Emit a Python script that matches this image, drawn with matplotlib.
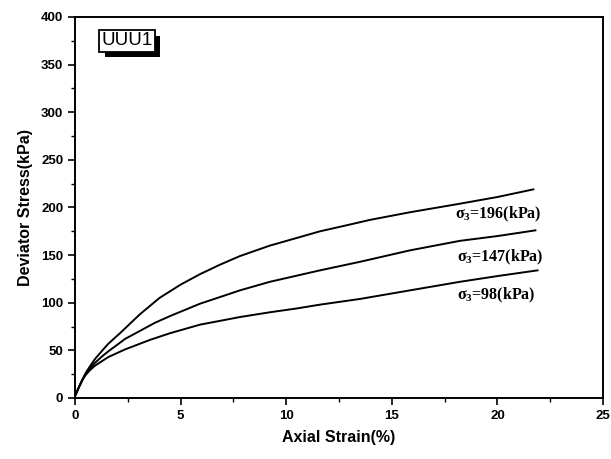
import matplotlib
matplotlib.use("Agg")
import matplotlib.pyplot as plt
from matplotlib.ticker import MultipleLocator
from matplotlib import patheffects as pe

# Axial strain (%) and deviator stress (kPa) for three confining pressures
strain_196 = [0.0, 0.1, 0.2, 0.35, 0.5, 0.7, 0.95, 1.3, 1.58, 2.13, 3.08, 4.0, 5.0, 5.92,
              6.87, 7.81, 9.23, 10.5, 11.6, 12.8, 13.97, 15.86, 18.23, 20.0, 21.7]
stress_196 = [2, 7, 12, 19, 26, 33, 41, 50, 57, 68, 88, 105, 119, 130,
              140, 149, 160, 168, 175, 181, 187, 195, 204, 211, 219]

strain_147 = [0.0, 0.1, 0.2, 0.35, 0.5, 0.7, 0.95, 1.3, 1.58, 2.13, 2.37, 3.79, 4.5, 5.92,
              6.87, 7.81, 9.23, 11.6, 13.5, 15.86, 18.23, 20.0, 21.8]
stress_147 = [2, 7, 12, 19, 25, 31, 37, 44, 49, 58, 62, 79, 86, 99,
              106, 113, 122, 134, 143, 155, 165, 170, 176]

strain_98 = [0.0, 0.1, 0.2, 0.35, 0.5, 0.7, 0.95, 1.3, 1.58, 2.37, 3.55, 4.5, 5.92, 6.87,
             7.81, 9.23, 10.5, 11.6, 13.5, 15.86, 18.23, 20.0, 21.9]
stress_98 = [2, 7, 12, 19, 24, 29, 34, 39, 43, 51, 61, 68, 77, 81,
             85, 90, 94, 98, 104, 113, 122, 128, 134]

curve_labels = ["σ$_3$=196(kPa)", "σ$_3$=147(kPa)", "σ$_3$=98(kPa)"]
label_pos = [(18.0, 193), (18.1, 148), (18.1, 108)]

x_ticks = [0, 5, 10, 15, 20, 25]
y_ticks = [0, 50, 100, 150, 200, 250, 300, 350, 400]

plt.rcParams["font.family"] = ["Liberation Sans", "DejaVu Sans"]
plt.rcParams["mathtext.fontset"] = "custom"
plt.rcParams["mathtext.rm"] = "Liberation Serif:bold"
plt.rcParams["mathtext.it"] = "Liberation Serif:bold"

fig = plt.figure(figsize=(6.11, 4.59), dpi=100)
ax = fig.add_axes([0.1227, 0.1329, 0.8642, 0.8301])

for xs, ys in [(strain_196, stress_196), (strain_147, stress_147), (strain_98, stress_98)]:
    ax.plot(xs, ys, color="black", lw=1.4)

for text, (lx, ly) in zip(curve_labels, label_pos):
    ax.text(lx, ly, text, fontsize=11.5, family="Liberation Serif",
            fontweight="bold", va="center", ha="left")

ax.set_xlim(0, 25)
ax.set_ylim(0, 400)
ax.set_xticks(x_ticks)
ax.set_yticks(y_ticks)
ax.xaxis.set_minor_locator(MultipleLocator(2.5))
ax.yaxis.set_minor_locator(MultipleLocator(25))
ax.tick_params(which="major", direction="out", length=5, width=1.2,
               labelsize=9.5)
ax.tick_params(which="minor", direction="out", length=3, width=1.0)
for lab in ax.get_xticklabels() + ax.get_yticklabels():
    lab.set_fontweight("bold")
for sp in ax.spines.values():
    sp.set_linewidth(1.4)

ax.set_xlabel("Axial Strain(%)", fontsize=11.5, fontweight="bold", labelpad=6)
ax.set_ylabel("Deviator Stress(kPa)", fontsize=11.5, fontweight="bold", labelpad=6)

tag = ax.text(1.25, 375, "UUU1", fontsize=13.5, va="center", ha="left",
              bbox=dict(boxstyle="square,pad=0.12", fc="white", ec="black", lw=1.3))
tag.get_bbox_patch().set_path_effects([
    pe.SimplePatchShadow(offset=(4, -4), shadow_rgbFace="black", alpha=1.0),
    pe.Normal(),
])

fig.savefig("out.png", dpi=100)
